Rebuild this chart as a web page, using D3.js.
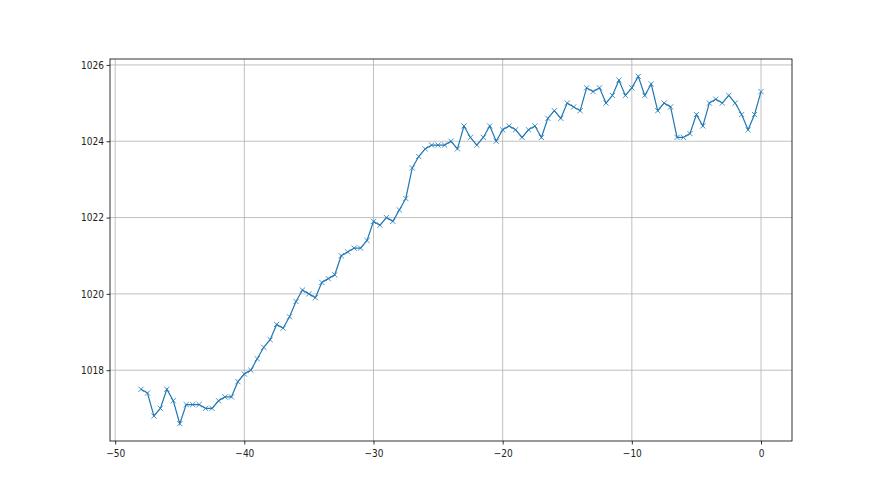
<!DOCTYPE html>
<html>
<head>
<meta charset="utf-8">
<script src="https://cdn.jsdelivr.net/npm/d3@7"></script>
<style>
  body { margin: 0; background: #fff; }
  svg { display: block; font-family: "DejaVu Sans", sans-serif; }
</style>
</head>
<body>
<div class="main"></div>
<script>
// hours before now
const hours = [
  -48, -47.5, -47, -46.5, -46, -45.5, -45, -44.5, -44, -43.5, -43, -42.5,
  -42, -41.5, -41, -40.5, -40, -39.5, -39, -38.5, -38, -37.5, -37, -36.5,
  -36, -35.5, -35, -34.5, -34, -33.5, -33, -32.5, -32, -31.5, -31, -30.5,
  -30, -29.5, -29, -28.5, -28, -27.5, -27, -26.5, -26, -25.5, -25, -24.5,
  -24, -23.5, -23, -22.5, -22, -21.5, -21, -20.5, -20, -19.5, -19, -18.5,
  -18, -17.5, -17, -16.5, -16, -15.5, -15, -14.5, -14, -13.5, -13, -12.5,
  -12, -11.5, -11, -10.5, -10, -9.5, -9, -8.5, -8, -7.5, -7, -6.5,
  -6, -5.5, -5, -4.5, -4, -3.5, -3, -2.5, -2, -1.5, -1, -0.5, 0
];

const pressure = [
  1017.5, 1017.4, 1016.8, 1017.0, 1017.5, 1017.2, 1016.6, 1017.1, 1017.1, 1017.1, 1017.0, 1017.0,
  1017.2, 1017.3, 1017.3, 1017.7, 1017.9, 1018.0, 1018.3, 1018.6, 1018.8, 1019.2, 1019.1, 1019.4,
  1019.8, 1020.1, 1020.0, 1019.9, 1020.3, 1020.4, 1020.5, 1021.0, 1021.1, 1021.2, 1021.2, 1021.4,
  1021.9, 1021.8, 1022.0, 1021.9, 1022.2, 1022.5, 1023.3, 1023.6, 1023.8, 1023.9, 1023.9, 1023.9,
  1024.0, 1023.8, 1024.4, 1024.1, 1023.9, 1024.1, 1024.4, 1024.0, 1024.3, 1024.4, 1024.3, 1024.1,
  1024.3, 1024.4, 1024.1, 1024.6, 1024.8, 1024.6, 1025.0, 1024.9, 1024.8, 1025.4, 1025.3, 1025.4,
  1025.0, 1025.2, 1025.6, 1025.2, 1025.4, 1025.7, 1025.2, 1025.5, 1024.8, 1025.0, 1024.9, 1024.1,
  1024.1, 1024.2, 1024.7, 1024.4, 1025.0, 1025.1, 1025.0, 1025.2, 1025.0, 1024.7, 1024.3, 1024.7, 1025.3
];

const xTicks = [-50, -40, -30, -20, -10, 0];
const yTicks = [1018, 1020, 1022, 1024, 1026];

const width = 880, height = 495;
const margin = {top: 59, right: 88, bottom: 54, left: 110};

const svg = d3.select(".main").append("svg")
    .attr("width", width)
    .attr("height", height);

// matplotlib style 5% padding
const xExt = d3.extent(hours), yExt = d3.extent(pressure);
const xPad = (xExt[1] - xExt[0]) * 0.05, yPad = (yExt[1] - yExt[0]) * 0.05;

const x = d3.scaleLinear()
    .domain([xExt[0] - xPad, xExt[1] + xPad])
    .range([margin.left, width - margin.right]);

const y = d3.scaleLinear()
    .domain([yExt[0] - yPad, yExt[1] + yPad])
    .range([height - margin.bottom, margin.top]);

const fmt = d => (d < 0 ? "\u2212" + Math.abs(d) : "" + d);

// grid
const grid = svg.append("g").attr("class", "grid");
grid.selectAll(".gx").data(xTicks).enter().append("line")
    .attr("x1", d => x(d)).attr("x2", d => x(d))
    .attr("y1", margin.top).attr("y2", height - margin.bottom)
    .attr("stroke", "#b0b0b0").attr("stroke-width", 0.8);
grid.selectAll(".gy").data(yTicks).enter().append("line")
    .attr("x1", margin.left).attr("x2", width - margin.right)
    .attr("y1", d => y(d)).attr("y2", d => y(d))
    .attr("stroke", "#b0b0b0").attr("stroke-width", 0.8);

// axes
const xAxis = svg.append("g")
    .attr("transform", "translate(0," + (height - margin.bottom) + ")")
    .call(d3.axisBottom(x).tickValues(xTicks).tickFormat(fmt).tickSize(3.5).tickSizeOuter(0));
const yAxis = svg.append("g")
    .attr("transform", "translate(" + margin.left + ",0)")
    .call(d3.axisLeft(y).tickValues(yTicks).tickFormat(fmt).tickSize(3.5).tickSizeOuter(0));

[xAxis, yAxis].forEach(a => {
    a.select(".domain").remove();
    a.selectAll("line").attr("stroke", "#000").attr("stroke-width", 0.8);
    a.selectAll("text")
        .attr("fill", "#222")
        .style("font-family", "'Liberation Sans Narrow', 'DejaVu Sans Condensed', sans-serif")
        .style("font-size", "10px");
});
xAxis.selectAll("text").attr("dy", "0.9em");
yAxis.selectAll("text").attr("x", -6);

// frame
svg.append("rect")
    .attr("x", margin.left).attr("y", margin.top)
    .attr("width", width - margin.left - margin.right)
    .attr("height", height - margin.top - margin.bottom)
    .attr("fill", "none").attr("stroke", "#000").attr("stroke-width", 0.8);

// line
const line = d3.line()
    .x((d, i) => x(hours[i]))
    .y(d => y(d));

svg.append("path")
    .datum(pressure)
    .attr("d", line)
    .attr("fill", "none")
    .attr("stroke", "#1f77b4")
    .attr("stroke-width", 1.2);

// x markers
const m = 2.6;
svg.append("g").selectAll("path")
    .data(pressure)
    .enter().append("path")
    .attr("d", (d, i) => {
        const cx = x(hours[i]), cy = y(d);
        return "M" + (cx - m) + "," + (cy - m) + "L" + (cx + m) + "," + (cy + m) +
            "M" + (cx - m) + "," + (cy + m) + "L" + (cx + m) + "," + (cy - m);
    })
    .attr("stroke", "#1f77b4")
    .attr("stroke-width", 0.8)
    .attr("fill", "none");
</script>
</body>
</html>
